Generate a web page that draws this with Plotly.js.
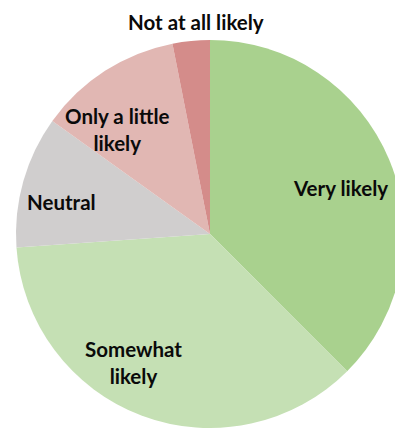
<!DOCTYPE html>
<html>
<head>
<meta charset="utf-8">
<script src="https://cdn.plot.ly/plotly-3.0.1.min.js"></script>
<style>
  html, body { margin: 0; padding: 0; overflow: hidden; background: #fff; }
  #chart { width: 440px; height: 440px; }
</style>
</head>
<body>
<div id="chart"></div>
<script>
// Survey answers, clockwise from 12 o'clock
const categories = ["Very likely", "Somewhat likely", "Neutral", "Only a little likely", "Not at all likely"];
const shares = [37.5, 36.4, 11.0, 12.0, 3.1];
const labelText = ["Very likely", "Somewhat<br>likely", "Neutral", "Only a little<br>likely", "Not at all likely"];

const colors = ["#a9d18e", "#c5e0b4", "#d0cece", "#e1b7b3", "#d48c8a"];

// label anchor points in pixels (x from left, y from top)
const labelPos = [[340, 188], [133, 362], [62, 202], [117, 130], [196, 22]];

const W = 440, H = 440;
const cx = 210, cy = 234, r = 194;

const annotations = labelText.map((t, i) => ({
  text: t,
  x: labelPos[i][0] / W,
  y: 1 - labelPos[i][1] / H,
  xref: "paper", yref: "paper",
  xanchor: "center", yanchor: "middle",
  showarrow: false,
  font: { family: "Lato, 'Open Sans', sans-serif", size: 20.5, color: "#0a0a0a", weight: 700 }
}));

Plotly.newPlot("chart", [{
  type: "pie",
  labels: categories,
  values: shares,
  sort: false,
  direction: "clockwise",
  rotation: 0,
  textinfo: "none",
  hoverinfo: "label+percent",
  marker: { colors: colors, line: { width: 0 } },
  domain: { x: [(cx - r) / W, (cx + r) / W], y: [(H - cy - r) / H, (H - cy + r) / H] }
}], {
  width: W, height: H,
  margin: { l: 0, r: 0, t: 0, b: 0 },
  showlegend: false,
  paper_bgcolor: "#fff",
  annotations: annotations
}, { displayModeBar: false, staticPlot: true });
</script>
</body>
</html>
